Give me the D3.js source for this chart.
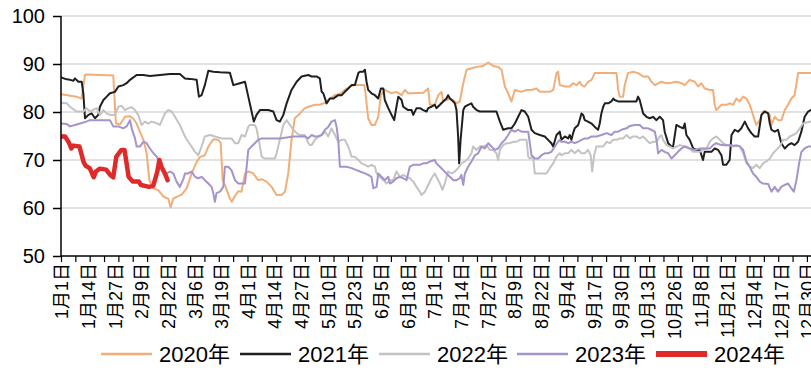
<!DOCTYPE html>
<html><head><meta charset="utf-8">
<script src="https://cdn.jsdelivr.net/npm/d3@7/dist/d3.min.js"></script>
<style>
body{margin:0;background:#fff}
svg{display:block}
text{font-family:"Liberation Sans",Arial,"Noto Sans CJK SC",sans-serif;fill:#000}
</style>
</head><body>
<svg id="chart" width="811" height="371"></svg>
<script>
// ---------- data ----------
const tickLabels = ["1月1日","1月14日","1月27日","2月9日","2月22日","3月6日","3月19日","4月1日","4月14日","4月27日","5月10日","5月23日","6月5日","6月18日","7月1日","7月14日","7月27日","8月9日","8月22日","9月4日","9月17日","9月30日","10月13日","10月26日","11月8日","11月21日","12月4日","12月17日","12月30日"];
const labelStepDays = 13;
const tickStepDays = 7;
const yTicks = [50,60,70,80,90,100];
const seriesNames = ["2020年","2021年","2022年","2023年","2024年"];

// [day of year, value]
const s2020 = [[0,83.7],[7.6,83.2],[10,82.8],[11.7,87.7],[12.5,87.8],[25.5,87.6],[26.8,77.6],[28.8,77.4],[31.2,79],[33.7,79.1],[35.3,78.6],[36.9,77.6],[38.5,75.9],[40.2,74.2],[41.8,71.4],[43.1,65.8],[45,64.1],[47.5,63.7],[49.9,62.4],[52.4,61.9],[53.5,60.1],[54.8,62],[56.4,62.3],[58.9,62.8],[61.3,64.1],[63.8,67.2],[66.2,69.6],[67.8,70.6],[70.2,71],[71.9,72.8],[74.3,74.3],[76.7,74.2],[77.9,73.6],[78.9,65.8],[80,64.8],[82.4,62],[83.3,61.3],[84.9,62.5],[86.5,63.5],[88.1,63.4],[89.8,67.2],[91.4,67.6],[93.8,67.2],[96.2,65.8],[97.9,66],[100.3,65.5],[102.8,64.4],[105.2,62.7],[107.6,62.7],[109.3,63.4],[110.9,67.2],[112.5,74.2],[114.1,78.7],[116.6,79.7],[119,80.8],[121.5,81.2],
[123.9,81.5],[126.3,81.5],[128.8,81.9],[131.2,82.8],[133.7,83.5],[136.1,83.8],[138.5,84.6],[141,85.3],[143.4,85.6],[148,85.6],[148.6,83.9],[149.9,78.7],[151.5,77.3],[153.2,77.3],[154.8,79],[156.1,83.5],[158,84.6],[161.3,83.9],[163.7,84.2],[166.2,83.5],[167.8,84.6],[169.4,83.9],[171.1,83.9],[176.8,84],[179.2,84.9],[180,81.5],[182.4,81.5],
[184.1,83.5],[185.7,84.2],[186.5,82.2],[188.1,82.5],[189.8,82.8],[191.4,82.5],[193,81.8],[194.6,82.2],[196.3,86],[197.9,88.8],[200.3,89.1],[202.8,89.4],[206,89.6],[208.5,90.3],[210.9,89.6],[213.3,89.4],[215,88.8],[216.6,85.3],[218.2,83.9],[219.8,82.2],[221.5,84.6],[224.7,84.2],[227.2,84.6],[229.6,84.6],[232,84.9],[233.7,84.2],[238.5,84.2],[240.2,84.6],[241.8,88.1],[242.6,88.4],
[243.4,85.6],[245.9,85.3],[248.3,85.3],[249.9,86],[251.6,85.6],[253.2,86.3],[254,85.6],[255.6,85.3],[257.2,86.3],[258.9,86.7],[260.5,88.1],[271.1,88.1],[271.9,84.6],[272.7,83.2],[274.3,83.2],[275.1,85.6],[276.7,88.1],[279.2,88.4],[281.6,88.1],[284.1,87.4],[286.5,87.4],[288.1,86.3],[289.8,85.6],[293,86.3],[295.5,86],[297.9,86.1],[300.3,86.3],[302.8,86],[304.4,85.6],
[306.8,86.7],[309.3,86.3],[310.9,85.3],[312.5,86],[314.1,84.9],[316.6,84.6],[318.2,84.6],[319,81.5],[319.8,80.4],[322.3,81.5],[324.7,81.5],[326.3,81.8],[328,81.5],[329.6,82.8],[331.2,82.2],[332.9,83.2],[334.5,82.8],[336.1,81.5],[337.7,79.4],[339.3,77.3],[341,78.3],[342.6,80.1],[344.2,80.1],[345.9,79.4],[346.7,77.3],[348.3,79],[349.9,78.3],[351.5,78.3],[353.2,80.4],[354.8,81.5],[356.4,82.8],[358,83.5],[359.7,88.1],[365.9,88.1]];

const s2021 = [[0,87.2],[2.8,86.8],[4.4,86.7],[6.1,86.5],[6.8,87],[8.5,86.3],[10.1,86.3],[10.9,83.9],[11.7,78.7],[13.4,79.4],[15,79.7],[16.6,78.7],[18.2,79.4],[19,81.1],[20.7,82.5],[22.3,83.2],[23.9,83.9],[26.3,84.2],[28,85.3],[30.4,85.6],[32,86],[33.7,86.7],[36.9,87.7],[40.2,87.7],[43.4,87.5],[48.3,87.7],[53.2,87.9],[58,87.9],[60.5,87],[62.9,86.9],[66.2,86.7],[67.3,83.2],[68.6,83.5],[70.2,85.6],[71.9,88.6],[74.3,88.4],[77.6,88.3],[82.4,88.2],[84.1,85.6],[87.3,86],[89.8,86.3],[91.4,83.2],[92.5,81.1],[94.1,78],[95.4,79.4],[97.1,80.4],[100.3,80.4],
[101.1,80.4],[103.6,80.1],[105.2,78.3],[106.8,78],[108.5,79.4],[110.1,81.8],[112.5,84.6],[115,86.3],[117.4,87.4],[120.7,87.7],
[122.3,87.4],[124.7,87.4],[126.3,87],[127.2,84.2],[128,83.9],[129.6,81.8],[131.2,82.8],[132.9,82.8],[135.3,83.5],[136.9,83.5],[138.5,84.2],[140.2,84.9],[141.8,85.6],[143.4,85.6],[145.1,88.1],[145.9,88.4],[147.5,88.4],[148.3,88.8],[149.1,86.3],[149.9,84.6],[151.5,83.9],[153.2,83.5],[154.8,82.8],[156.1,84.9],[157.3,84.9],[158,82.5],[159.7,80.8],[161.3,79.4],[162.6,78.3],[163.7,81.1],[164.6,83.2],[166.2,82.5],[167,81.1],[169.4,80.4],[171.1,80.4],[171.9,79.4],[173.5,80.8],[175.1,80.8],[176.8,80.4],[178.4,80.1],[179.2,80.8],[180.8,81.1],[182.4,81.5],
[183.2,80.8],[184.9,81.5],[186.5,82.2],[188.1,82.8],[188.9,83.5],[189.8,82.8],[191.4,82.2],[192.2,81.8],[193,80.4],[193.8,74.9],[194.3,69.3],[195,74.2],[196.3,80.4],[197.1,81.1],[198.7,81.5],[200.3,81.8],[201.1,81.1],[202.8,80.4],[204.4,80.1],[212.5,80.1],[214.2,78],[215.8,76.3],[218.2,76.6],[219.8,76.6],[221.5,77.6],[223.1,79],[224.7,80.4],[226.3,80.1],[228,79],[229.6,76.3],[231.2,75.6],[233.7,75.2],[236.1,74.9],[237.7,74.2],[239.3,73.5],[240.2,72.8],[241.8,75.2],[243.4,75.9],
[244.2,74.2],[245.9,74.9],[247.5,74.5],[248.3,75.2],[249.1,74.2],[249.9,75.6],[250.7,76.6],[252.4,77.3],[254,79.7],[254.8,79.4],[255.6,78.3],[257.2,78],[258.9,77.6],[260.5,76.9],[262.1,76.3],[262.9,77.6],[263.7,79.7],[264.6,81.1],[265.4,81.8],[267,81.8],[268.6,82.2],[269.5,82.8],[270.2,82.5],[271.9,82.2],[280.8,82.2],[281.6,83.2],[282.4,82.5],[284.1,79.7],[285.7,79],[287.3,78.7],[288.9,79],[290.6,78.3],[292.2,79],[293.8,78.3],[294.6,75.9],[296.3,73.5],[297.9,72.8],[298.7,72.8],[300.3,77.3],[302,76.9],[303.6,76.6],[304.4,77.6],
[305.2,75.2],[306.8,74.2],[308.5,72.4],[310.1,72.1],[311.7,72.1],[313.3,70],[314.1,71.7],[317.4,71.7],[319,72.4],[320.7,72.1],[322.3,71],[323.1,69],[324.7,69],[326.3,70],[327.2,75.2],[328.8,76.3],[330.4,75.9],[332,76.6],[333.7,78],[335.3,76.6],[336.9,75.6],[338.5,74.9],[340.2,74.9],[341.8,79.4],[343.4,80.1],[345.1,79.7],[345.9,77.6],[346.7,76.3],[348.3,75.9],[349.9,76.3],[351.5,73.5],[353.2,72.4],[354.8,73.1],[356.4,73.5],[358,73.1],[359.7,73.8],[361.3,75.9],[362.9,79],[364.6,80.1],[365.9,80.4]];

const s2022 = [[0,81.9],[2.8,81.8],[4.4,81.1],[7.6,80.1],[10.9,80.1],[12.5,80.8],[14.1,80.1],[17.4,80.8],[19,79.4],[20.7,80.4],[22.3,79.7],[23.9,79.4],[26.3,79.4],[28,81.1],[29.6,81.3],[31.2,80.4],[32.9,80.8],[34.5,81],[36.1,80.4],[37.7,79.4],[39.3,77.3],[41,78],[42.6,77.6],[44.2,78],[45.9,77.8],[48.3,77.3],[50.7,79.7],[52.4,80.4],[54,80.1],[55.6,79],
[58,77.3],[60.5,74.9],[62.1,73.8],[63.7,72.8],[65.4,71.7],[67,71],[68.6,72.8],[70.2,74.9],[72.7,75.2],[75.1,74.9],[78.4,74.5],[83.2,74.5],[84.9,73.5],[86.5,73.5],[88.1,75.2],[89.8,74.9],[91.4,76.9],[92.2,77.3],[94.6,77.3],[95.4,76.6],[97.1,72.8],[97.9,70.7],[99.5,70.3],[104.4,70.3],[105.2,71.4],[106.8,74.2],[108.5,77.3],[110.1,78.3],[111.7,77.3],[113.4,76.3],[115,75.6],[116.6,75.2],[119,75.2],[120.7,73.5],[121.5,73.1],
[122.3,73.1],[123.9,74.2],[125.5,74.9],[127.2,75.2],[128.8,75.9],[130.4,74.9],[132,76.6],[133.7,75.2],[135.3,73.8],[136.9,74.2],[138.5,74.2],[140.2,72.8],[141.8,70.7],[143.4,70.7],[145.1,70],[146.7,69.3],[148.3,69],[149.9,68.6],[151.5,69],[153.2,68.6],[154,67.2],[155.6,66.5],[157.3,65.8],[158.9,65.1],[160.5,65.8],[162.1,65.8],[163.7,67.6],[165.4,66.5],[167,66.9],[168.6,66.5],[170.2,66.2],[171.9,65.5],[173.5,64.4],[175.1,63.4],[175.9,62.7],[177.6,63.4],[179.2,64.8],[180.8,66.2],[182.4,67.2],
[183.2,66.5],[184.9,65.1],[186.2,63.8],[187.3,65.1],[188.9,67.6],[190.6,67.2],[192.2,67.6],[193.8,68.3],[195.4,69.3],[197.1,69.7],[198.7,70.3],[200.3,71.4],[201.1,72.8],[202.8,72.1],[204.4,72.8],[206,72.8],[207.6,73.1],[209.3,72.1],[210.9,72.1],[212.5,71.4],[213.3,70],[214.2,72.1],[215.8,73.1],[217.4,73.5],[219,73.5],[220.7,73.8],[222.3,73.8],[223.9,74.2],[227.2,74.2],[228,70.7],[228.8,70.3],[230.4,70.7],[231.2,67.2],[236.9,67.2],[238.5,68.3],[240.2,69.3],[241.8,70.7],[243.4,71.4],
[244.2,71],[245.9,71.4],[247.5,71.4],[249.1,72.1],[250.7,71.4],[252.4,72.1],[254,71.4],[255.6,71.4],[257.2,72.1],[258.5,71],[259.2,67.6],[260.2,71],[261.3,72.8],[264.6,72.8],[266.2,73.8],[267.8,73.5],[269.5,74.2],[271.1,74.2],[272.7,74.5],[274.3,74.5],[276,75.2],[277.6,74.5],[279.2,74.9],[280.8,74.9],[282.4,74.5],[284.1,74.9],[285.7,74.2],[287.3,73.5],[289,73.8],[290.6,73.8],[292.2,74.9],[293,75.2],[293.8,74.2],[295.5,73.1],[297.1,72.8],[298.7,72.4],[300.3,72.8],[302,73.1],[304.4,72.8],
[305.2,72.8],[306.8,72.4],[308.5,71.7],[311.7,71.7],[313.3,72.1],[315,72.4],[316.6,73.8],[318.2,74.5],[319.8,74.9],[321.5,74.2],[323.1,73.5],[324.7,73.1],[326.3,73.1],[328,72.8],[329.6,73.1],[331.2,72.8],[332.9,71.4],[334.5,69.3],[336.1,68.6],[337.7,68.3],[339.3,69],[341,68.3],[342.6,69.3],[344.2,69.7],[345.9,70.3],[347.5,71.4],[349.1,72.1],[350.7,72.8],[352.4,74.2],[354,74.2],[355.6,74.9],[357.2,75.2],[358.9,75.6],[360.5,76.6],[362.1,77.6],[363.7,77.8],[365.9,78]];

const s2023 = [[0,77.6],[2.8,77.5],[4.4,77],[6.8,77.3],[9.3,77.6],[11.7,77.9],[14.1,78.3],[23.9,78.3],[25.5,77],[28,77],[30.4,76.6],[32,77],[33.7,78.3],[34.5,76.6],[36.1,74.5],[36.9,72.8],[38.5,72.8],[40.2,73.8],[41.8,73.5],[43.4,72.4],[45.1,71.4],[46.7,70.7],[48.3,69.3],[49.9,68.3],[51.5,67.2],[53.2,67.6],[54.8,67.2],[56.4,65.5],[58,64.4],[59.7,66],
[60.5,67.2],[62.1,67.2],[63.7,67.6],[65.4,66.5],[67,66.2],[68.6,66.5],[70.2,65.8],[71.9,65.1],[73.5,64.4],[74.3,63.1],[75.1,61.3],[75.9,63.1],[77.6,63.4],[79.2,64.4],[80,68.6],[81.6,68.6],[83.2,67.9],[84.9,65.8],[86.5,65.1],[89.8,65.1],[90.6,68.6],[91.4,72.1],[93,72.8],[94.6,73.5],[96.2,74.2],[97.9,74.5],[106.8,74.5],[113.4,74.9],
[119,74.9],[120.7,74.5],[122.3,75.2],[123.9,74.9],[125.5,74.9],[127.2,75.2],[128.8,76.3],[130.4,76.9],[132,78],[133.7,78.3],[134.5,76.9],[135.3,74.2],[136.1,68.6],[139.3,68.6],[141.8,68.3],[144.2,67.9],[145.9,67.6],[148.3,67.2],[149.9,66.9],[151.5,66.5],[152.4,64.1],[154,64.4],[154.8,67.2],[156.4,66.5],[158,65.8],[159.7,66.5],[160.5,65.1],[162.1,65.5],[163.7,66.2],[165.4,66.5],[167,66.2],[168.6,65.8],[170.2,68.6],[171.9,69],[175.1,69],[176.8,69.3],[178.4,69.3],[180,69.7],[182.4,70],
[183.2,69.3],[184.9,68.6],[186.5,67.9],[188.1,67.2],[189.8,66.5],[191.4,65.8],[193,65.8],[194.6,66.2],[195.4,66.9],[196.3,64.8],[197.1,67.2],[198.7,68.6],[200.3,69.7],[202,71],[203.6,71.4],[205.2,72.8],[206.8,72.4],[208.5,73.5],[210.1,72.8],[211.7,72.1],[213.3,72.4],[215,73.5],[216.6,74.2],[218.2,75.2],[219.8,76.3],[221.5,75.9],[223.1,76.3],[224.7,75.9],[228,75.9],[229.6,71],[231.2,70.3],[232.9,70.3],[234.5,71],[236.1,71.4],[237.7,71.4],[239.3,71.7],[241,72.8],[242.6,73.8],[243.4,74.2],
[244.2,73.8],[245.9,73.8],[247.5,73.5],[249.1,73.8],[250.7,73.5],[252.4,73.8],[254,74.2],[255.6,74.5],[257.2,74.5],[258.9,74.9],[261.3,74.9],[263.7,75.2],[266.2,75.6],[268.6,75.2],[270.2,75.9],[271.9,75.9],[273.5,76.3],[276,76.6],[277.6,77.1],[280,77.3],[282.4,77.3],[284.1,76.6],[286.5,76.6],[288.1,76.3],[289.8,75.9],[290.6,74.2],[291.4,71.4],[293,72.1],[294.6,71.7],[296.3,71.4],[297.9,70.3],[299.5,71],[301.1,71.7],[302.8,72.4],[304.4,72.8],
[306.8,72.4],[309.3,72.1],[311.7,72.4],[316.6,72.4],[318.2,73.1],[319.8,73.5],[322.3,73.1],[331.2,72.9],[332.9,72.1],[334.5,69.7],[336.1,68.6],[337.7,67.2],[339.3,66.5],[341,65.5],[342.6,65.1],[345.1,65],[346.7,63.4],[348.3,64.4],[349.9,63.4],[351.5,64.4],[353.2,64.8],[354.8,65.1],[356.4,64.1],[357.6,63.4],[358.9,65.8],[360.2,69.3],[361.3,71.7],[362.9,72.4],[364.6,72.8],[365.9,72.8]];

const s2024 = [[0,74.9],[2,74.9],[4,73.5],[5,72.4],[6,73],[9,72.8],[11,69.6],[12,68.8],[14,68.3],[16,66.4],[17,67.6],[19,68.2],[22,68],[24,66.9],[25.5,66.4],[27,70.7],[29.5,72.1],[31,72.1],[33,66.5],[35,65.5],[38,65.5],[39,64.8],[43,64.4],[45,64.6],[47,67.6],[48,70],[49,68.6],[51,66.9],[52,65.8]];

// ---------- chart ----------
const seriesData = [s2020, s2021, s2022, s2023, s2024];
const colors = ["#F2AE78", "#1f1f1f", "#c3c3c3", "#A593CC", "#E02A2A"];
const widths = [2, 2, 2, 2, 4.5];

const svg = d3.select("#chart");
const pL = 61, pR = 811, pT = 16, pB = 256;
const x = d3.scaleLinear().domain([0, 366]).range([pL, pR]);
const y = d3.scaleLinear().domain([50, 100]).range([pB, pT]);

svg.append("defs").append("clipPath").attr("id", "clip")
  .append("rect").attr("x", pL).attr("y", 0).attr("width", pR - pL).attr("height", pB);

// gridlines
svg.append("g").selectAll("line").data(yTicks.filter(d => d > 50)).join("line")
  .attr("x1", pL).attr("x2", pR)
  .attr("y1", d => y(d)).attr("y2", d => y(d))
  .attr("stroke", "#d9d9d9").attr("stroke-width", 1.5);

// lines
const line = d3.line().x(d => x(d[0])).y(d => y(d[1]));
const lg = svg.append("g").attr("clip-path", "url(#clip)");
seriesData.forEach((s, i) => {
  lg.append("path").datum(s).attr("d", line)
    .attr("fill", "none").attr("stroke", colors[i]).attr("stroke-width", widths[i])
    .attr("stroke-linejoin", "round").attr("stroke-linecap", "round");
});

// y axis
const yAxis = svg.append("g").attr("transform", `translate(${pL},0)`)
  .call(d3.axisLeft(y).tickValues(yTicks).tickSize(8).tickPadding(8));
yAxis.select(".domain").attr("stroke", "#000").attr("stroke-width", 1.5).attr("d", `M0,${pB}V${pT}`);
yAxis.selectAll(".tick line").attr("stroke", "#000").attr("stroke-width", 1.5);
yAxis.selectAll("text").style("font-size", "20px").attr("fill", "#000");

// x axis
const tickDays = d3.range(0, 366, tickStepDays);
const xAxis = svg.append("g").attr("transform", `translate(0,${pB})`)
  .call(d3.axisBottom(x).tickValues(tickDays).tickSize(6).tickFormat(""));
xAxis.select(".domain").attr("stroke", "#000").attr("stroke-width", 1.5).attr("d", `M${pL},0H${pR}`);
xAxis.selectAll(".tick line").attr("stroke", "#000").attr("stroke-width", 1.2);

// x labels
svg.append("g").selectAll("text").data(tickLabels).join("text")
  .attr("transform", (d, i) => `translate(${x(i * labelStepDays) + 1},${pB + 7}) rotate(-90)`)
  .attr("text-anchor", "end").attr("dy", "0.35em")
  .style("font-size", "18px").text(d => d);

// legend
const lgd = svg.append("g");
const legX = [101, 240, 379, 517, 656];
seriesNames.forEach((n, i) => {
  const g = lgd.append("g").attr("transform", `translate(${legX[i]},354)`);
  const bg = g.append("rect").attr("x", -2).attr("y", -12).attr("height", 24).attr("fill", "#fff");
  g.append("line").attr("x1", 0).attr("x2", 51).attr("y1", 0).attr("y2", 0)
    .attr("stroke", colors[i]).attr("stroke-width", i === 4 ? 6 : 2.5);
  const t = g.append("text").attr("x", 58).attr("dy", "0.35em").style("font-size", "22px").text(n);
  bg.attr("width", 60 + t.node().getComputedTextLength() + 2);
});
</script>
</body></html>
